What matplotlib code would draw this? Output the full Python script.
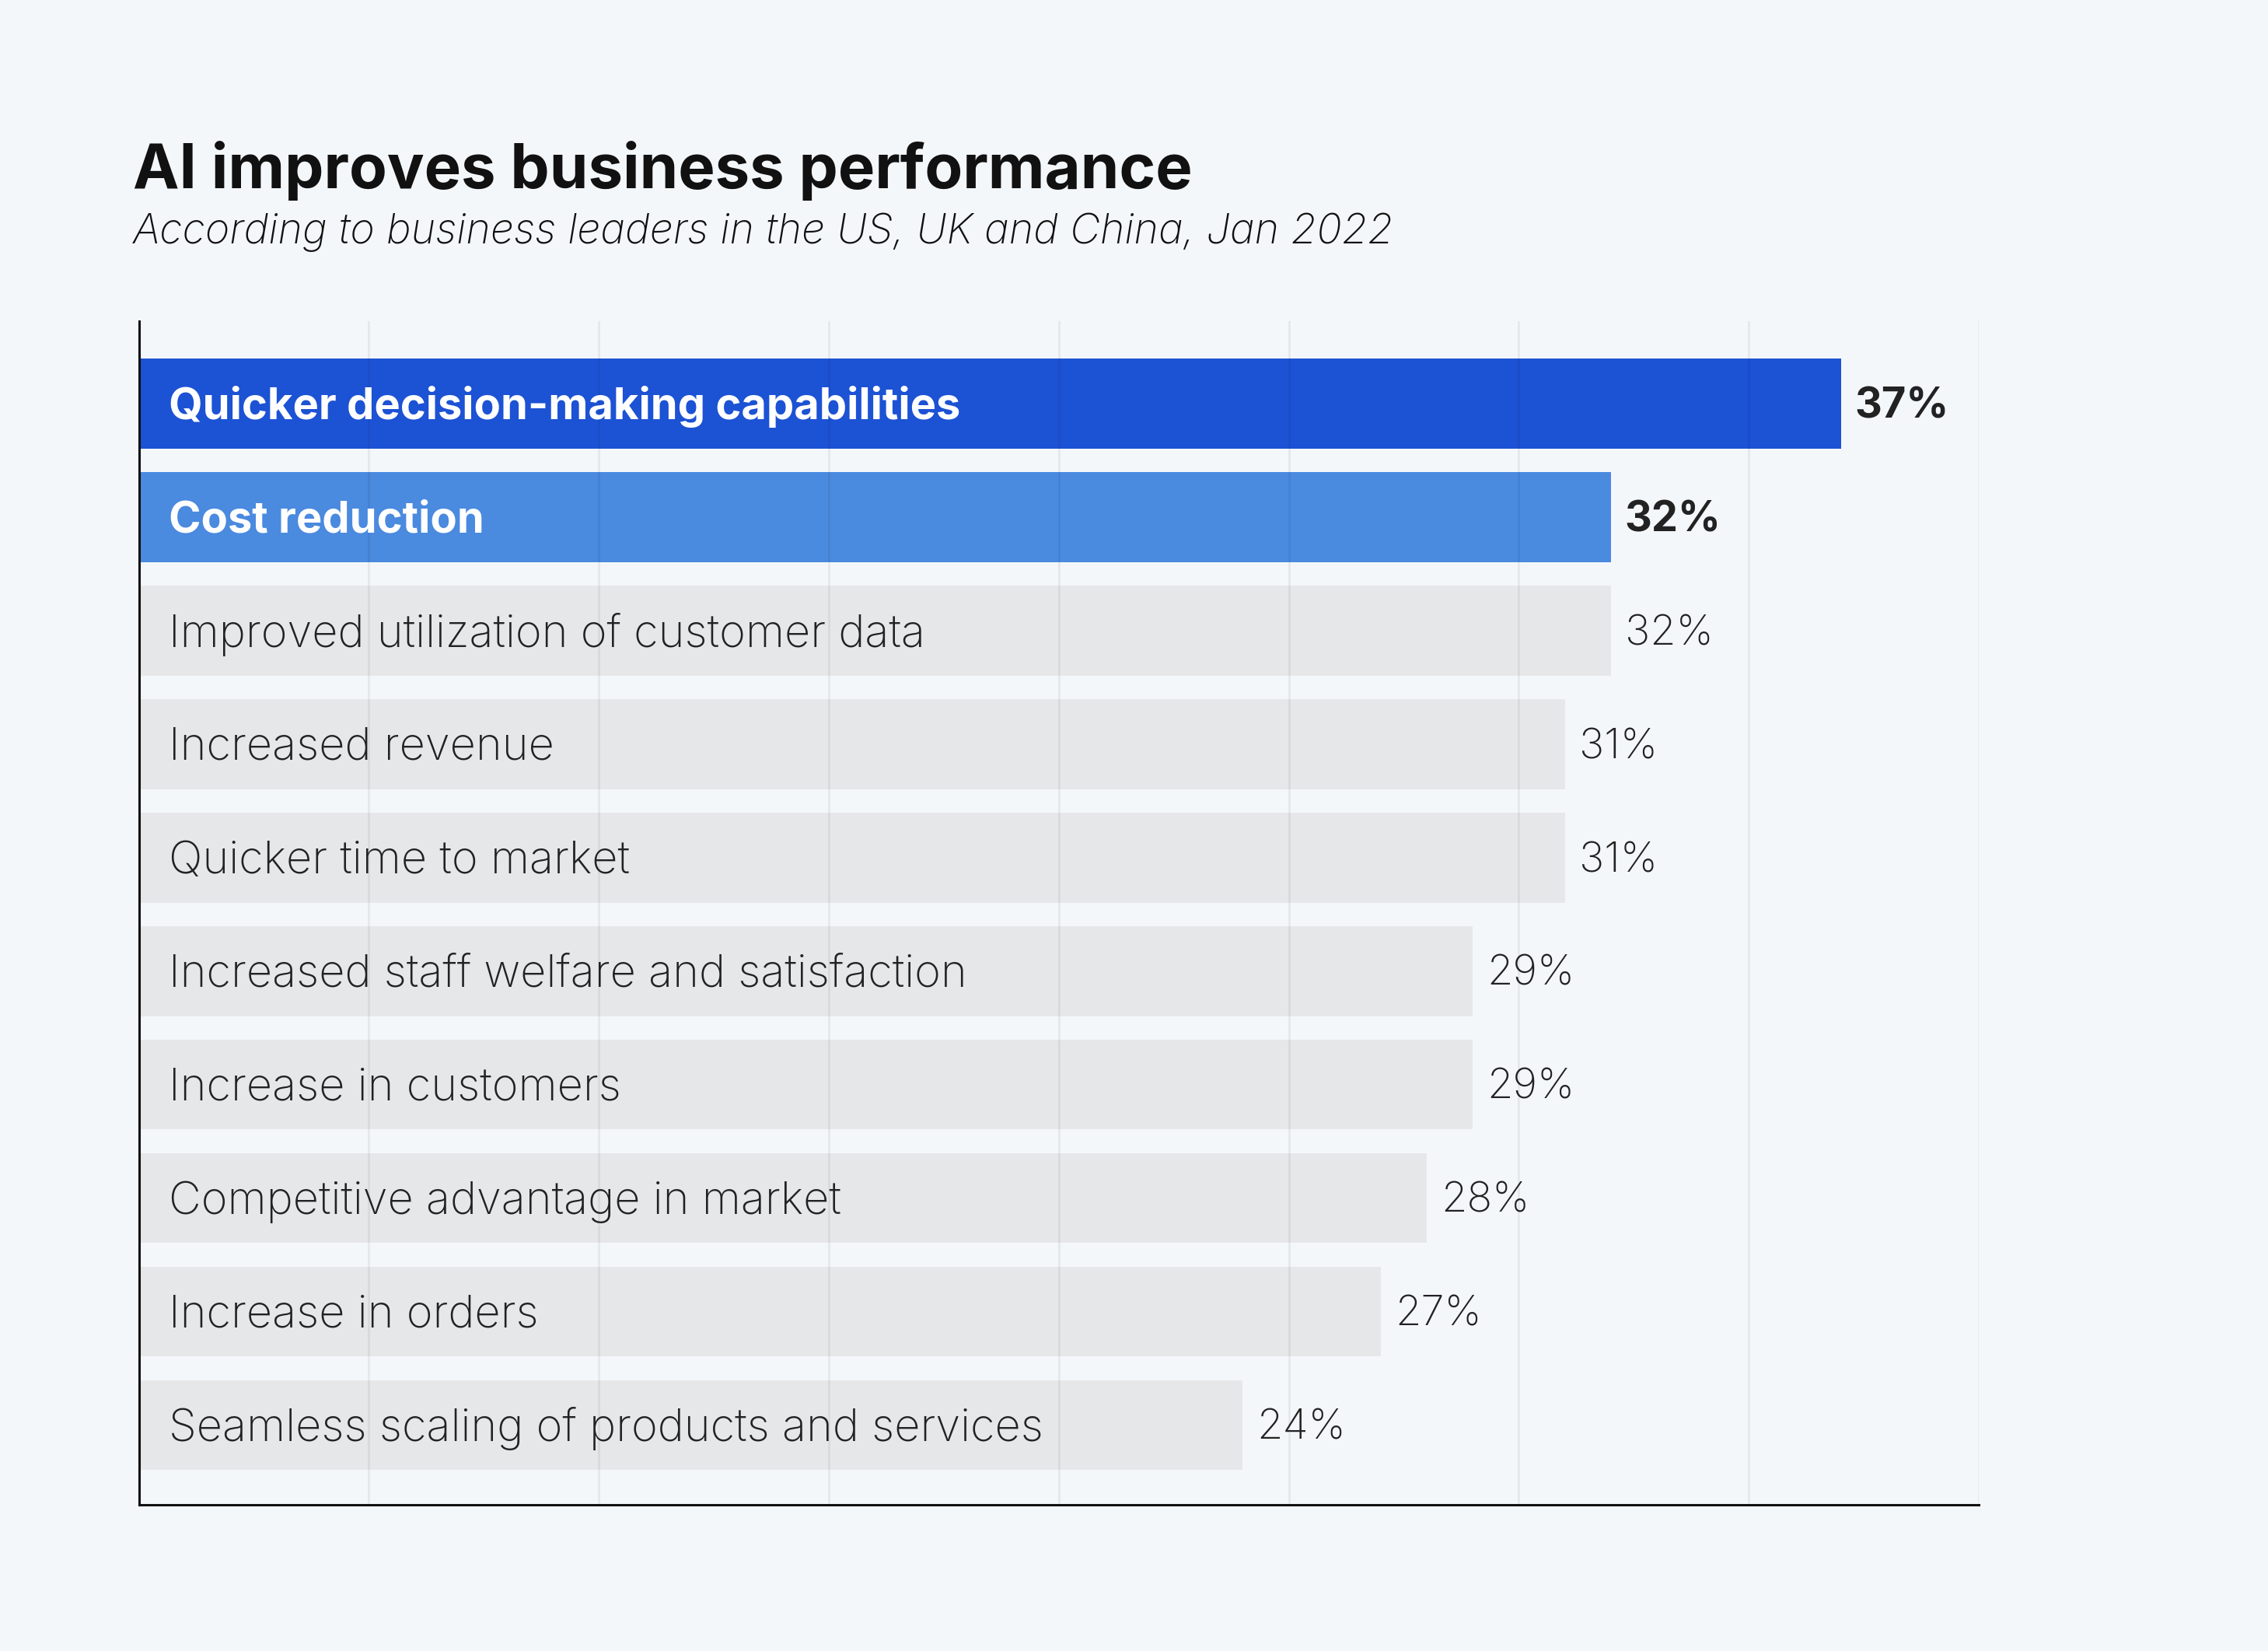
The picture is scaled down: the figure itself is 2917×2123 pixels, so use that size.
import matplotlib
matplotlib.use("Agg")
import matplotlib.pyplot as plt

# data (top to bottom)
categories = [
    "Quicker decision-making capabilities",
    "Cost reduction",
    "Improved utilization of customer data",
    "Increased revenue",
    "Quicker time to market",
    "Increased staff welfare and satisfaction",
    "Increase in customers",
    "Competitive advantage in market",
    "Increase in orders",
    "Seamless scaling of products and services",
]
values = [37, 32, 32, 31, 31, 29, 29, 28, 27, 24]
value_labels = ["37%", "32%", "32%", "31%", "31%", "29%", "29%", "28%", "27%", "24%"]
highlight = [2, 1, 0, 0, 0, 0, 0, 0, 0, 0]  # 2 = dark blue, 1 = light blue

BG = "#F4F7FA"
BAR_COLORS = {2: "#1C52D4", 1: "#4A8ADF", 0: "#E6E7E9"}
TEXT = "#222222"
FONT = ["Inter", "DejaVu Sans"]

plt.rcParams["font.family"] = FONT

fig = plt.figure(figsize=(29.17, 21.23), dpi=100, facecolor=BG)
ax = fig.add_axes([0.0612, 0.0886, 0.8113, 0.7169], facecolor=BG)

ypos = list(range(len(categories)))
colors = [BAR_COLORS[h] for h in highlight]
ax.barh(ypos, values, height=0.79, color=colors, zorder=2)

ax.set_xlim(0, 40)
ax.set_ylim(len(categories) - 0.30, -0.727)
ax.set_xticks(range(0, 41, 5))
ax.set_yticks([])
ax.tick_params(axis="x", length=0, labelbottom=False)
ax.grid(axis="x", color="#000000", alpha=0.06, linewidth=2, zorder=3)
ax.set_axisbelow(False)

for s in ("top", "right"):
    ax.spines[s].set_visible(False)
for s in ("left", "bottom"):
    ax.spines[s].set_color("#111111")
    ax.spines[s].set_linewidth(2.2)
    ax.spines[s].set_zorder(4)

for y, cat, v, lab, h in zip(ypos, categories, values, value_labels, highlight):
    bold = h > 0
    ax.annotate(cat, xy=(0, y), xytext=(28, 1), textcoords="offset points",
                ha="left", va="center_baseline",
                fontsize=40.4 if bold else 41.5,
                fontweight="bold" if bold else "light",
                color="white" if bold else TEXT, zorder=5)
    ax.annotate(lab, xy=(v, y), xytext=(13, 1), textcoords="offset points",
                ha="left", va="center_baseline", fontsize=39,
                fontweight="bold" if bold else "light",
                color=TEXT, zorder=5)

fig.text(0.0587, 0.886, "AI improves business performance", fontsize=57.4,
         fontweight="bold", color="#111111", ha="left", va="baseline")
fig.text(0.0587, 0.8528, "According to business leaders in the US, UK and China, Jan 2022",
         fontsize=38.6, fontstyle="italic", fontweight="light", color="#111111",
         ha="left", va="baseline")

fig.savefig("out.png", dpi=100, facecolor=BG)
